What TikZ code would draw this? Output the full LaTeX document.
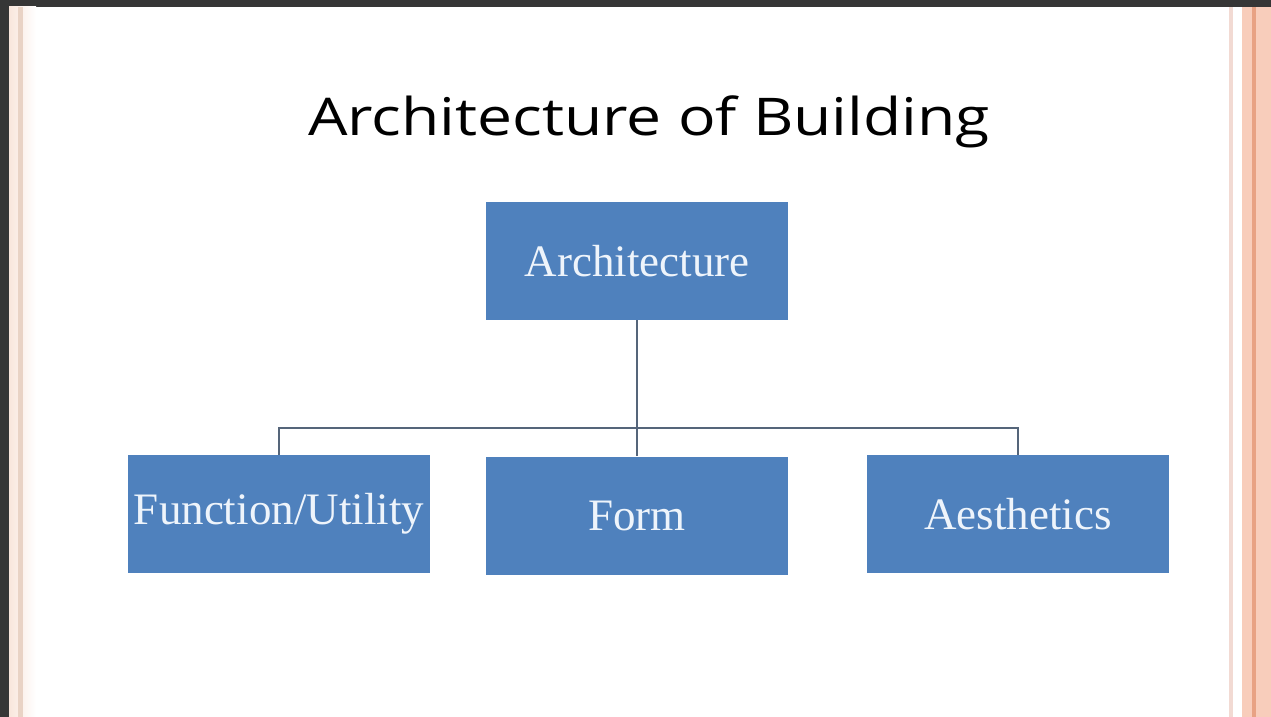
\documentclass[tikz,border=0pt]{standalone}
\usepackage{fontspec}
\setmainfont{Liberation Serif}
\newfontfamily\titlefont{Open Sans}
\definecolor{frameDark}{HTML}{363636}
\definecolor{boxBlue}{HTML}{4F81BD}
\definecolor{boxText}{HTML}{EEF4FB}
\definecolor{lineCol}{HTML}{55657A}
\definecolor{peachA}{HTML}{F9E6DC}
\definecolor{peachB}{HTML}{E9D3C5}
\definecolor{pinkA}{HTML}{F2DAD3}
\definecolor{peachC}{HTML}{F8CDBB}
\definecolor{peachD}{HTML}{E8A284}
\begin{document}
\begin{tikzpicture}[x=1pt,y=1pt,
  boxnode/.style={draw=none,fill=boxBlue,minimum width=302pt,minimum height=118pt,inner sep=0pt,
    text=boxText,font=\fontsize{45}{48}\selectfont},
  linkline/.style={draw=lineCol,line width=2.8pt}]
\useasboundingbox (0,0) rectangle (1271,-717);
% background and frame
\fill[white] (0,0) rectangle (1271,-717);
\fill[frameDark] (0,0) rectangle (1271,-7);
\fill[frameDark] (0,0) rectangle (9,-717);
\shade[left color=peachA,right color=white] (9,-7) rectangle (36,-717);
\fill[peachB] (18,-7) rectangle (23,-717);
\fill[pinkA] (1229,-7) rectangle (1233,-717);
\fill[peachC] (1242,-7) rectangle (1271,-717);
\fill[peachD] (1252,-7) rectangle (1256,-717);
% title
\node[font=\titlefont\fontsize{52}{56}\selectfont,text=black,anchor=base,inner sep=0pt] (title) at (649,-135) {\scalebox{1.2}[1]{Architecture of Building}};
% boxes
\node[boxnode] (arch) at (637,-261) {Architecture};
\node[boxnode] (func) at (279,-514) {Function/Utility};
\node[boxnode] (form) at (637,-515.5) {Form};
\node[boxnode] (aest) at (1018,-514) {Aesthetics};
% connectors
\coordinate (hub) at (637,-428);
\draw[linkline] (arch.south) -- (form.north);
\draw[linkline] (func.north) |- (hub) -| (aest.north);
\end{tikzpicture}
\end{document}
